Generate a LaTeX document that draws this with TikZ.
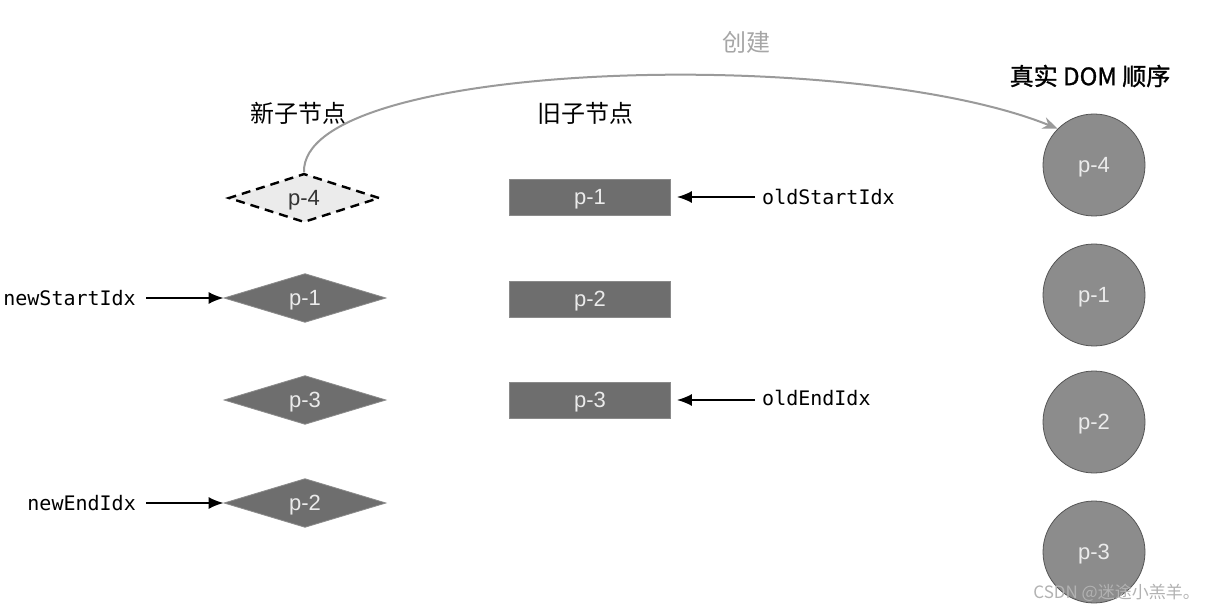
\documentclass[tikz,border=0pt]{standalone}
\usepackage{fontspec}
\setmainfont{Liberation Sans}
\newfontfamily\cjk{Noto Sans CJK SC}
\newfontfamily\cjkb[FakeBold=1.2]{Noto Sans CJK SC}
\newfontfamily\monof{DejaVu Sans Mono}
\usetikzlibrary{shapes.geometric,arrows.meta}
\definecolor{dkfill}{HTML}{6E6E6E}
\definecolor{dkline}{HTML}{8A8A8A}
\definecolor{cfill}{HTML}{8C8C8C}
\definecolor{cline}{HTML}{555555}
\definecolor{lbl}{HTML}{EBEBEB}
\definecolor{curvec}{HTML}{9A9A9A}
\tikzset{
  plabel/.style={font=\fontsize{22}{26}\selectfont, text height=16pt, text depth=1pt},
  newnode/.style={diamond, draw=dkline, fill=dkfill, line width=0.8pt, inner sep=0pt,
    minimum width=162pt, minimum height=46pt, text=lbl, plabel},
  newdash/.style={diamond, draw=black, fill=black!8, line width=2.4pt, dash pattern=on 9pt off 6pt,
    inner sep=0pt, minimum width=151pt, minimum height=44pt, text=black!80, plabel},
  oldnode/.style={rectangle, draw=dkline, fill=dkfill, line width=0.8pt, inner sep=0pt,
    minimum width=161pt, minimum height=36pt, text=lbl, plabel},
  domnode/.style={circle, draw=cline, fill=cfill, line width=0.8pt, inner sep=0pt,
    minimum size=102pt, text=lbl, plabel},
  idx/.style={font=\monof\fontsize{20}{24}\selectfont, inner sep=0pt},
  head/.style={font=\cjk\fontsize{24}{28}\selectfont, inner sep=0pt},
  ptr/.style={-{Latex[length=15pt,width=12pt]}, line width=1.8pt},
  curve/.style={-{Stealth[length=15pt,width=12pt]}, draw=curvec, line width=2pt}
}
\begin{document}
\begin{tikzpicture}[x=1pt,y=-1pt]
\useasboundingbox[fill=white] (0,0) rectangle (1209,612);
% headings
\node[head, text=black!35] (hcreate) at (746,42) {创建};
\node[head] (hnew) at (298,113) {新子节点};
\node[head] (hold) at (585,113) {旧子节点};
\node[head, font=\cjkb\fontsize{24}{28}\selectfont] (hdom) at (1090,76) {真实 DOM 顺序};
% new children
\node[newdash] (n4) at (304,198) {p-4};
\node[newnode] (n1) at (305,298) {p-1};
\node[newnode] (n3) at (305,400) {p-3};
\node[newnode] (n2) at (305,503) {p-2};
% old children
\node[oldnode] (o1) at (590,197) {p-1};
\node[oldnode] (o2) at (590,299) {p-2};
\node[oldnode] (o3) at (590,400) {p-3};
% real DOM
\node[domnode] (d4) at (1094,165) {p-4};
\node[domnode] (d1) at (1094,295) {p-1};
\node[domnode] (d2) at (1094,422) {p-2};
\node[domnode] (d3) at (1094,552) {p-3};
% index labels
\node[idx, anchor=east] (nsi) at (136,298) {newStartIdx};
\node[idx, anchor=east] (nei) at (136,503) {newEndIdx};
\node[idx, anchor=west] (osi) at (762,197) {oldStartIdx};
\node[idx, anchor=west] (oei) at (762,398) {oldEndIdx};
% pointers
\draw[ptr] ([xshift=10pt]nsi.east) -- (n1.west);
\draw[ptr] ([xshift=10pt]nei.east) -- (n2.west);
\draw[ptr] ([xshift=-7pt]osi.west) -- ([xshift=6pt]o1.east);
\draw[ptr] ([xshift=-7pt]oei.west |- o3.east) -- ([xshift=6pt]o3.east);
% create curve
\draw[curve] (n4.north) .. controls (300,60) and (850,45) .. (d4.135);
% watermark
\node[font=\cjk\fontsize{17}{19}\selectfont, text=black!30, anchor=east, inner sep=0pt] (wm) at (1200,593) {CSDN @迷途小羔羊。};
\end{tikzpicture}
\end{document}
